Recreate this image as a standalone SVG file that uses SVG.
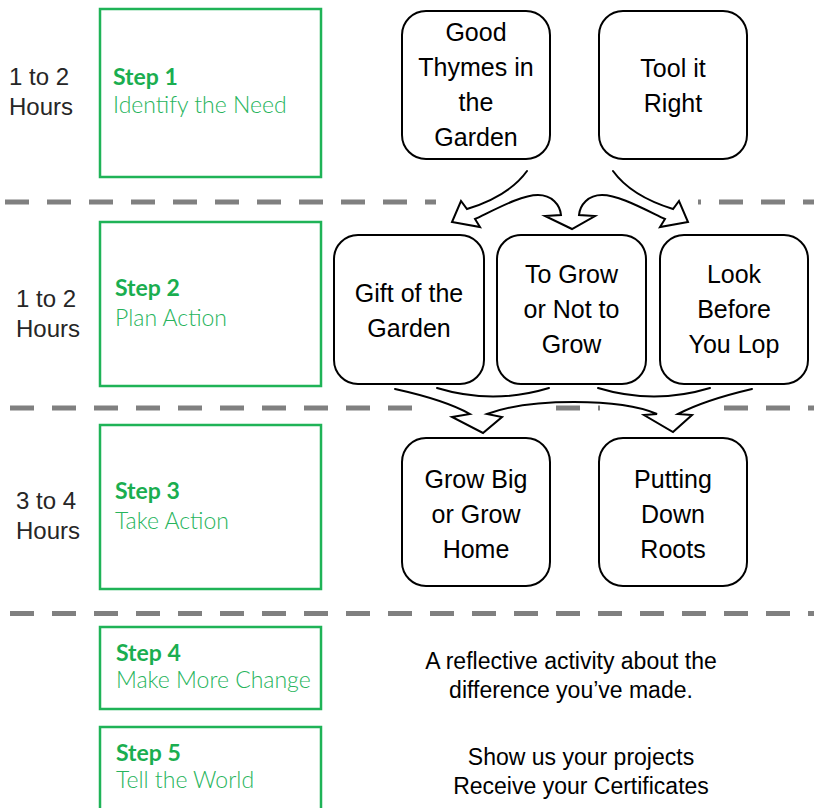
<svg xmlns="http://www.w3.org/2000/svg" width="814" height="808" viewBox="0 0 814 808">
<style>
.node rect{fill:#fff;stroke:#000;stroke-width:2}
.node text{font-family:"Liberation Sans",Arial,sans-serif;font-size:25px;text-anchor:middle;fill:#000}
.step rect{fill:none;stroke:#1fb357;stroke-width:2.5}
.step .t1{font-family:Lato,"Liberation Sans",sans-serif;font-weight:bold;font-size:23px;fill:#1aae50}
.step .t2{font-family:Lato,"Liberation Sans",sans-serif;font-weight:300;font-size:23px;fill:#27b45c}
.time text{font-family:"Liberation Sans",Arial,sans-serif;font-size:24px;fill:#262626}
.note text{font-family:"Liberation Sans",Arial,sans-serif;font-size:23px;fill:#000;text-anchor:middle}
.dash{stroke:#808080;stroke-width:5;stroke-dasharray:24 18;fill:none}
.arrow{fill:none;stroke:#000;stroke-width:2;stroke-linejoin:miter;stroke-linecap:round}
</style>
<rect width="814" height="808" fill="#fff"/>

<g id="dividers">
<path class="dash" d="M5,202 H436"/>
<path class="dash" d="M698,202 H814" stroke-dashoffset="21"/>
<path class="dash" d="M10,408 H413"/>
<path class="dash" d="M556,408 H600"/>
<path class="dash" d="M724,408 H814"/>
<path class="dash" d="M10,613.5 H814"/>
</g>

<g id="time1" class="time"><text x="9" y="85">1 to 2</text><text x="9" y="115">Hours</text></g>
<g id="time2" class="time"><text x="16" y="307">1 to 2</text><text x="16" y="337">Hours</text></g>
<g id="time3" class="time"><text x="16" y="509">3 to 4</text><text x="16" y="539">Hours</text></g>

<g id="step1" class="step"><rect x="100" y="9" width="221" height="168"/><text class="t1" x="113" y="85">Step 1</text><text class="t2" x="113" y="113">Identify the Need</text></g>
<g id="step2" class="step"><rect x="100" y="222" width="221" height="164"/><text class="t1" x="115" y="296">Step 2</text><text class="t2" x="115" y="326">Plan Action</text></g>
<g id="step3" class="step"><rect x="100" y="425" width="221" height="164"/><text class="t1" x="115" y="499">Step 3</text><text class="t2" x="115" y="529">Take Action</text></g>
<g id="step4" class="step"><rect x="100" y="627" width="221" height="82"/><text class="t1" x="116" y="661">Step 4</text><text class="t2" x="116" y="688">Make More Change</text></g>
<g id="step5" class="step"><rect x="100" y="727" width="221" height="100"/><text class="t1" x="116" y="761">Step 5</text><text class="t2" x="116" y="788">Tell the World</text></g>

<g id="good-thymes" class="node"><rect x="402" y="11" width="148" height="148" rx="24"/><text x="476" y="41">Good</text><text x="476" y="76">Thymes in</text><text x="476" y="111">the</text><text x="476" y="146">Garden</text></g>
<g id="tool-it-right" class="node"><rect x="599" y="11" width="148" height="148" rx="24"/><text x="673" y="77">Tool it</text><text x="673" y="111.5">Right</text></g>
<g id="gift-of-the-garden" class="node"><rect x="334" y="235" width="150" height="149" rx="24"/><text x="409" y="301.5">Gift of the</text><text x="409" y="336.5">Garden</text></g>
<g id="to-grow" class="node"><rect x="497" y="235" width="149" height="149" rx="24"/><text x="571.5" y="283">To Grow</text><text x="571.5" y="318">or Not to</text><text x="571.5" y="353">Grow</text></g>
<g id="look-before" class="node"><rect x="660" y="235" width="148" height="149" rx="24"/><text x="734" y="283">Look</text><text x="734" y="318">Before</text><text x="734" y="353">You Lop</text></g>
<g id="grow-big" class="node"><rect x="402" y="438" width="148" height="148" rx="24"/><text x="476" y="488">Grow Big</text><text x="476" y="523">or Grow</text><text x="476" y="558">Home</text></g>
<g id="putting-down-roots" class="node"><rect x="599" y="438" width="148" height="148" rx="24"/><text x="673" y="488">Putting</text><text x="673" y="523">Down</text><text x="673" y="558">Roots</text></g>

<g id="note4" class="note"><text x="571" y="669">A reflective activity about the</text><text x="571" y="698">difference you’ve made.</text></g>
<g id="note5" class="note"><text x="581" y="765">Show us your projects</text><text x="581" y="794">Receive your Certificates</text></g>

<g id="connectors">
<path class="arrow" d="M527,171 Q509,196 467,209 L461,201 L452,222 L480,227 L475,219 C500,207 522,195 538,195 C552,195 560,205 561,215 L545,216 L572,229 L595,216 L579,215 C580,205 588,195 602,195 C618,195 640,207 665,219 L660,227 L688,222 L679,201 L673,209 Q631,196 613,171"/>
<path class="arrow" d="M395,389 Q445,400 470,414 L452,417 L483,433 L502,417 L487,414 C530,398 620,398 657,414 L644,415 L673,432 L692,415 L678,414 Q705,400 752,389"/>
<path class="arrow" d="M437,388 Q493,405 549,388"/>
<path class="arrow" d="M598,388 Q654,405 710,388"/>
</g>
</svg>
